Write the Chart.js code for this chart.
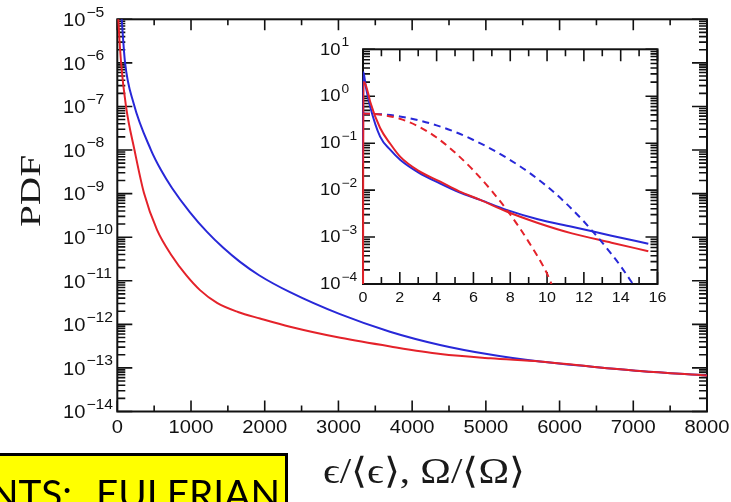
<!DOCTYPE html>
<html>
<head>
<meta charset="utf-8">
<script src="https://cdn.jsdelivr.net/npm/chart.js@4.4.1/dist/chart.umd.min.js"></script>
<style>
html, body { margin: 0; padding: 0; background: #ffffff; }
#wrap { position: relative; width: 731px; height: 502px; overflow: hidden; background: #ffffff; }
#wrap canvas { position: absolute; left: 0; top: 0; }
</style>
</head>
<body>
<div id="wrap">
  <canvas id="mainChart" width="731" height="502"></canvas>
  <canvas id="insetChart" width="731" height="502"></canvas>
</div>
<script>
// ---------------- DATA ----------------
// Main panel: PDF of dissipation (red) and enstrophy (blue)
const mainRedX = [0, 14, 50, 118, 233, 362, 539, 742, 932, 1122, 1353, 1637, 1936, 2343, 3026, 3705, 4385, 5064, 5734, 6413, 7091, 8000];
const mainRedY = [5e-5, 1e-5, 1.05e-6, 1e-7, 1e-8, 1.03e-9, 1.47e-10, 3.7e-11, 1.36e-11, 6.1e-12, 3.1e-12, 1.92e-12, 1.36e-12, 8.8e-13, 4.9e-13, 3.1e-13, 2.09e-13, 1.66e-13, 1.41e-13, 1.08e-13, 8.51e-14, 6.7e-14];
const mainBlueX = [0, 60, 104, 220, 457, 593, 742, 986, 1217, 1434, 1665, 1923, 2343, 3021, 3699, 4378, 5056, 5734, 6413, 7091, 8000];
const mainBlueY = [3e-4, 1e-5, 1.05e-6, 1.2e-7, 1.0e-8, 3.48e-9, 1.35e-9, 3.72e-10, 1.32e-10, 5.77e-11, 2.71e-11, 1.34e-11, 5.47e-12, 1.71e-12, 6.79e-13, 3.37e-13, 2.03e-13, 1.41e-13, 1.08e-13, 8.51e-14, 6.7e-14];

// Inset panel: solid = DNS, dashed = Gaussian reference
const insetRedX = [0, 0.02, 0.12, 0.3, 0.39, 0.93, 1.5, 2.03, 3, 4.2, 5.2, 6.37, 7.8, 9.5, 11.35, 13.5, 15.5];
const insetRedY = [1e-5, 2.0, 1.86, 1.07, 0.76, 0.21, 0.095, 0.051, 0.026, 0.0151, 0.0095, 0.0062, 0.0035, 0.002, 0.0012, 0.00076, 0.0005];
const insetBlueX = [0, 0.02, 0.15, 0.39, 0.93, 1.5, 2.03, 3, 4.2, 5.2, 6.37, 7.8, 9.5, 11.35, 13.5, 15.5];
const insetBlueY = [0.037, 3.3, 1.6, 0.6, 0.138, 0.071, 0.044, 0.024, 0.0138, 0.0091, 0.0062, 0.0038, 0.0024, 0.00166, 0.00107, 0.00072];
const insetRedDashX = [0, 1, 2, 3, 4, 5, 6, 7, 8, 9, 10, 10.3];
const insetRedDashY = [0.43, 0.403, 0.331, 0.229, 0.132, 0.063, 0.0263, 0.00955, 0.00302, 0.00079, 0.000166, 0.000087];
const insetBlueDashX = [0, 1, 2, 3, 4, 5, 6, 7, 8, 9, 10, 11, 12, 13, 14, 14.8];
const insetBlueDashY = [0.43, 0.412, 0.372, 0.309, 0.24, 0.174, 0.117, 0.074, 0.0437, 0.024, 0.012, 0.00537, 0.00214, 0.00076, 0.00024, 0.000083];

// Tick values & labels
const mainXTickValues = [0, 1000, 2000, 3000, 4000, 5000, 6000, 7000, 8000];
const mainXTickLabels = ['0', '1000', '2000', '3000', '4000', '5000', '6000', '7000', '8000'];
const mainXMinorTicks = [500, 1500, 2500, 3500, 4500, 5500, 6500, 7500];
const mainYTickValues = [1e-5, 1e-6, 1e-7, 1e-8, 1e-9, 1e-10, 1e-11, 1e-12, 1e-13, 1e-14];
const mainYTickExponents = ['\u22125', '\u22126', '\u22127', '\u22128', '\u22129', '\u221210', '\u221211', '\u221212', '\u221213', '\u221214'];

const insetXTickValues = [0, 2, 4, 6, 8, 10, 12, 14, 16];
const insetXTickLabels = ['0', '2', '4', '6', '8', '10', '12', '14', '16'];
const insetXMinorTicks = [1, 3, 5, 7, 9, 11, 13, 15];
const insetYTickValues = [10, 1, 0.1, 0.01, 0.001, 0.0001];
const insetYTickExponents = ['1', '0', '\u22121', '\u22122', '\u22123', '\u22124'];

const yTitle = 'PDF';
const xTitle = '\u03F5/\u27E8\u03F5\u27E9, \u03A9/\u27E8\u03A9\u27E9';
const boxTextA = 'NTS:';
const boxTextB = 'EULERIAN';

const RED = '#e4222a';
const BLUE = '#2828d8';

// ---------------- HELPERS ----------------
function logMinors(lowExp, highExp) {
  const out = [];
  for (let n = lowExp; n < highExp; n++) {
    for (let k = 2; k <= 9; k++) out.push(k * Math.pow(10, n));
  }
  return out;
}
function pts(xs, ys) { return xs.map((x, i) => ({ x: x, y: ys[i] })); }
function lineDs(label, xs, ys, color, dash, width) {
  return {
    label: label, data: pts(xs, ys), borderColor: color, backgroundColor: color,
    borderWidth: width, borderDash: dash || [], pointRadius: 0, fill: false,
    cubicInterpolationMode: 'monotone', clip: { left: 2, top: 0, right: 0, bottom: 0 }
  };
}
const SANS = '"Liberation Sans", Arial, Helvetica, sans-serif';
const SERIF = '"Liberation Serif", "Times New Roman", serif';

function drawText(ctx, str, x, y, font, align, sx) {
  ctx.save();
  ctx.font = font;
  ctx.textAlign = align;
  ctx.textBaseline = 'alphabetic';
  ctx.translate(x, y);
  ctx.scale(sx, 1);
  ctx.fillText(str, 0, 0);
  ctx.restore();
}
function textWidth(ctx, str, font, sx) {
  ctx.save(); ctx.font = font; const w = ctx.measureText(str).width; ctx.restore();
  return w * sx;
}

function drawFrame(chart, s) {
  const ctx = chart.ctx, a = chart.chartArea, xs = chart.scales.x, ys = chart.scales.y;
  ctx.save();
  ctx.strokeStyle = '#111111';
  ctx.lineWidth = s.tickW;
  ctx.beginPath();
  const seg = (x0, y0, x1, y1) => { ctx.moveTo(x0, y0); ctx.lineTo(x1, y1); };
  s.xMajor.forEach(v => { const p = xs.getPixelForValue(v); seg(p, a.bottom, p, a.bottom - s.xMajLen); seg(p, a.top, p, a.top + s.xMajLen); });
  s.xMinor.forEach(v => { const p = xs.getPixelForValue(v); seg(p, a.bottom, p, a.bottom - s.xMinLen); seg(p, a.top, p, a.top + s.xMinLen); });
  s.yMajor.forEach(v => { const p = ys.getPixelForValue(v); seg(a.left, p, a.left + s.yMajLen, p); seg(a.right, p, a.right - s.yMajLen, p); });
  s.yMinor.forEach(v => { const p = ys.getPixelForValue(v); seg(a.left, p, a.left + s.yMinLen, p); seg(a.right, p, a.right - s.yMinLen, p); });
  ctx.stroke();
  ctx.lineWidth = s.frameW;
  ctx.strokeRect(a.left, a.top, a.right - a.left, a.bottom - a.top);
  ctx.fillStyle = '#111111';
  s.xMajor.forEach((v, i) => {
    drawText(ctx, s.xLabels[i], xs.getPixelForValue(v), a.bottom + s.xLabelDy, s.xFont, 'center', s.sx);
  });
  s.yMajor.forEach((v, i) => {
    const p = ys.getPixelForValue(v);
    drawText(ctx, '10', s.yBaseX, p + s.yBaseDy, s.yFont, 'left', s.sx);
    const w = textWidth(ctx, '10', s.yFont, s.sx);
    drawText(ctx, s.yExps[i], s.yBaseX + w + 1, p + s.yExpDy, s.yExpFont, 'left', s.sx);
  });
  ctx.restore();
}

const baseOptions = (xmin, xmax, ymin, ymax, pad) => ({
  responsive: false, animation: false, devicePixelRatio: 1, events: [],
  layout: { padding: pad },
  plugins: { legend: { display: false }, tooltip: { enabled: false }, title: { display: false } },
  scales: {
    x: { type: 'linear', min: xmin, max: xmax, display: false },
    y: { type: 'logarithmic', min: ymin, max: ymax, display: false }
  }
});

// ---------------- MAIN CHART ----------------
const mainSpec = {
  xMajor: mainXTickValues, xMinor: mainXMinorTicks, yMajor: mainYTickValues, yMinor: logMinors(-14, -5),
  xMajLen: 11, xMinLen: 6, yMajLen: 15, yMinLen: 8, frameW: 2, tickW: 1.6,
  xLabels: mainXTickLabels, xFont: '18px ' + SANS, xLabelDy: 21.5,
  yExps: mainYTickExponents, yBaseX: 63, yFont: '18px ' + SANS, yExpFont: '14px ' + SANS,
  yBaseDy: 6.8, yExpDy: -2.8, sx: 1.12
};

function drawMainExtras(chart) {
  const ctx = chart.ctx;
  ctx.save();
  ctx.fillStyle = '#1a1a1a';
  // Y title "PDF" (rotated)
  ctx.font = '39px ' + SERIF;
  const wP = ctx.measureText(yTitle).width;
  ctx.translate(40, 191);
  ctx.rotate(-Math.PI / 2);
  ctx.scale(72 / wP, 0.78);
  ctx.textAlign = 'center';
  ctx.textBaseline = 'alphabetic';
  ctx.fillText(yTitle, 0, 0);
  ctx.restore();

  // X title
  ctx.save();
  ctx.fillStyle = '#1a1a1a';
  ctx.font = '36px ' + SERIF;
  const wX = ctx.measureText(xTitle).width;
  ctx.translate(323, 483);
  ctx.scale(202 / wX, 1);
  ctx.textAlign = 'left';
  ctx.textBaseline = 'alphabetic';
  ctx.fillText(xTitle, 0, 0);
  ctx.restore();

  // Yellow label box (cut at the bottom/left of the picture)
  ctx.save();
  ctx.fillStyle = '#ffff00';
  ctx.fillRect(-5, 454.5, 291.5, 60);
  ctx.strokeStyle = '#000000';
  ctx.lineWidth = 3;
  ctx.strokeRect(-5, 454.5, 291.5, 60);
  ctx.fillStyle = '#000000';
  ctx.font = '38px Lato, ' + SANS;
  const wE = ctx.measureText(boxTextB).width;
  ctx.save();
  ctx.translate(96, 508);
  ctx.scale(184 / wE, 1);
  ctx.textAlign = 'left';
  ctx.fillText(boxTextB, 0, 0);
  ctx.restore();
  ctx.save();
  ctx.translate(72, 508);
  ctx.scale(184 / wE, 1);
  ctx.textAlign = 'right';
  ctx.fillText(boxTextA, 0, 0);
  ctx.restore();
  ctx.restore();
}

new Chart(document.getElementById('mainChart'), {
  type: 'line',
  data: {
    datasets: [
      lineDs('dissipation', mainRedX, mainRedY, RED, [], 2),
      lineDs('enstrophy', mainBlueX, mainBlueY, BLUE, [], 2)
    ]
  },
  options: baseOptions(0, 8000, 1e-14, 1e-5, { left: 117.3, top: 19.3, right: 24, bottom: 90.5 }),
  plugins: [{
    id: 'mainFrame',
    beforeDraw(c) { const ctx = c.ctx; ctx.save(); ctx.fillStyle = '#ffffff'; ctx.fillRect(0, 0, c.width, c.height); ctx.restore(); },
    beforeDatasetsDraw(c) { drawFrame(c, mainSpec); },
    afterDraw(c) { drawMainExtras(c); }
  }]
});

// ---------------- INSET CHART ----------------
const insetSpec = {
  xMajor: insetXTickValues, xMinor: insetXMinorTicks, yMajor: insetYTickValues, yMinor: logMinors(-4, 1),
  xMajLen: 12, xMinLen: 7, yMajLen: 12, yMinLen: 7, frameW: 2, tickW: 1.6,
  xLabels: insetXTickLabels, xFont: '14px ' + SANS, xLabelDy: 17.7,
  yExps: insetYTickExponents, yBaseX: 320, yFont: '16px ' + SANS, yExpFont: '12px ' + SANS,
  yBaseDy: 5.2, yExpDy: -3.4, sx: 1.15
};

new Chart(document.getElementById('insetChart'), {
  type: 'line',
  data: {
    datasets: [
      lineDs('gaussian dissipation', insetRedDashX, insetRedDashY, RED, [7, 5], 2),
      lineDs('gaussian enstrophy', insetBlueDashX, insetBlueDashY, BLUE, [7, 5], 2),
      lineDs('dissipation', insetRedX, insetRedY, RED, [], 2),
      lineDs('enstrophy', insetBlueX, insetBlueY, BLUE, [], 2)
    ]
  },
  options: baseOptions(0, 16, 1e-4, 10, { left: 363, top: 49.3, right: 73.5, bottom: 218 }),
  plugins: [{
    id: 'insetFrame',
    beforeDatasetsDraw(c) {
      const ctx = c.ctx, a = c.chartArea;
      ctx.save(); ctx.fillStyle = '#ffffff'; ctx.fillRect(a.left, a.top, a.right - a.left, a.bottom - a.top); ctx.restore();
      drawFrame(c, insetSpec);
    }
  }]
});
</script>
</body>
</html>
